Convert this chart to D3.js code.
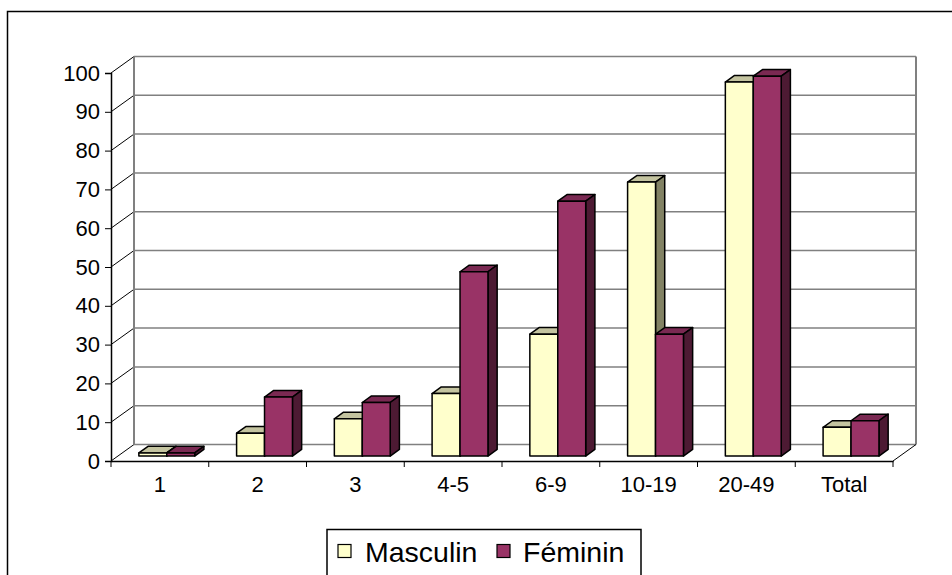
<!DOCTYPE html>
<html><head><meta charset="utf-8">
<script src="https://cdn.jsdelivr.net/npm/d3@7"></script>
<style>body{margin:0;background:#fff}svg{display:block}text{font-family:"Liberation Sans",Arial,sans-serif;fill:#000}</style>
</head><body><svg id="c" width="952" height="575"></svg>
<script>
const categories = ["1","2","3","4-5","6-9","10-19","20-49","Total"];
const seriesNames = ["Masculin","Féminin"];
const masculin = [0.8, 5.9, 9.6, 16.1, 31.4, 70.6, 96.4, 7.4];
const feminin  = [0.8, 15.2, 13.8, 47.5, 65.7, 31.4, 97.9, 9.1];
const yTicks = [0,10,20,30,40,50,60,70,80,90,100];
const colors = {
  Masculin: {front:"#FFFFCC", top:"#C4C4A0", side:"#828264"},
  "Féminin": {front:"#993366", top:"#7A2952", side:"#4D1A33"}
};

const svg = d3.select("#c");
const DX = 23, DY = -16.5;
const x = d3.scaleBand().domain(categories).range([111, 893]).paddingInner(0).paddingOuter(0);
const bw = x.bandwidth()/3.5;
const y = d3.scaleLinear().domain([0,100]).range([461, 73]);

// outer frame
svg.append("rect").attr("x",7.5).attr("y",11.5).attr("width",1000).attr("height",1000)
  .attr("fill","none").attr("stroke","#000").attr("stroke-width",1.5);

const g = svg.append("g");
// back wall gridlines
yTicks.forEach(t=>{
  g.append("line").attr("x1",111+DX).attr("x2",893+DX).attr("y1",y(t)+DY).attr("y2",y(t)+DY)
    .attr("stroke","#808080").attr("stroke-width",1.5);
  g.append("line").attr("x1",111).attr("x2",111+DX).attr("y1",y(t)).attr("y2",y(t)+DY)
    .attr("stroke","#000").attr("stroke-width",1);
});
// back wall edges
g.append("line").attr("x1",111+DX).attr("x2",111+DX).attr("y1",y(100)+DY).attr("y2",y(0)+DY).attr("stroke","#808080").attr("stroke-width",2);
g.append("line").attr("x1",893+DX).attr("x2",893+DX).attr("y1",y(100)+DY).attr("y2",y(0)+DY).attr("stroke","#808080").attr("stroke-width",2);
// floor right diagonal
g.append("line").attr("x1",893).attr("x2",893+DX).attr("y1",y(0)).attr("y2",y(0)+DY).attr("stroke","#000").attr("stroke-width",1);

// bars
const f0 = 0.3, fd = 0.4;
const data = categories.map((c,i)=>({c, vals:[masculin[i], feminin[i]]}));
data.forEach(d=>{
  d.vals.forEach((v,si)=>{
    const col = colors[seriesNames[si]];
    const x0 = x(d.c) + bw*0.75 + si*bw + f0*DX;
    const x1 = x0 + bw;
    const yb = y(0) + f0*DY, yt = y(v) + f0*DY;
    const ddx = fd*DX, ddy = fd*DY;
    const bg = g.append("g").attr("stroke","#000").attr("stroke-width",1.5).attr("stroke-linejoin","round");
    bg.append("path").attr("fill",col.top)
      .attr("d",`M${x0},${yt}L${x0+ddx},${yt+ddy}L${x1+ddx},${yt+ddy}L${x1},${yt}Z`);
    bg.append("path").attr("fill",col.side)
      .attr("d",`M${x1},${yt}L${x1+ddx},${yt+ddy}L${x1+ddx},${yb+ddy}L${x1},${yb}Z`);
    bg.append("rect").attr("fill",col.front).attr("x",x0).attr("y",yt).attr("width",bw).attr("height",yb-yt);
  });
});

// front axes
const ya = svg.append("g").attr("transform","translate(111,0)")
  .call(d3.axisLeft(y).tickValues(yTicks).tickSize(6).tickPadding(5));
ya.select(".domain").attr("stroke","#000").attr("stroke-width",1.5);
ya.selectAll(".tick line").attr("stroke","#000");
ya.selectAll("text").style("font-size","22px").style("font-family","'Liberation Sans',Arial,sans-serif");

const xa = svg.append("g").attr("transform","translate(0,461)")
  .call(d3.axisBottom(x).tickSize(0).tickPadding(15));
xa.select(".domain").attr("stroke","#000").attr("stroke-width",1.5);
xa.selectAll("text").style("font-size","22px").style("font-family","'Liberation Sans',Arial,sans-serif");
// tick marks between categories
xa.selectAll(".sep").data(d3.range(categories.length+1)).join("line")
  .attr("x1",i=>111+i*x.step()).attr("x2",i=>111+i*x.step()).attr("y1",0).attr("y2",6)
  .attr("stroke","#000");

// legend
const lg = svg.append("g");
lg.append("rect").attr("x",327).attr("y",529.5).attr("width",314).attr("height",60)
  .attr("fill","#fff").attr("stroke","#000").attr("stroke-width",1.5);
const lx = [338, 497], tx = [365, 523];
seriesNames.forEach((s,i)=>{
  lg.append("rect").attr("x",lx[i]).attr("y",544.5).attr("width",13).attr("height",13)
    .attr("fill",colors[s].front).attr("stroke","#000").attr("stroke-width",1.2);
  lg.append("text").attr("x",tx[i]).attr("y",562).style("font-size","28.5px").text(s);
});
</script></body></html>
